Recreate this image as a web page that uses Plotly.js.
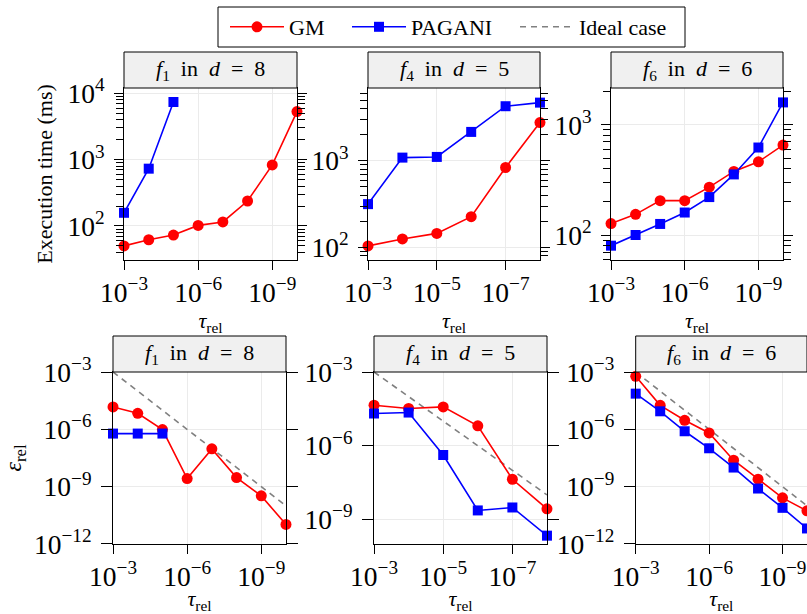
<!DOCTYPE html>
<html>
<head>
<meta charset="utf-8">
<script src="https://cdn.plot.ly/plotly-3.0.1.min.js"></script>
<style>html,body{margin:0;padding:0;background:#fff;}#chart{width:807px;height:614px;}</style>
</head>
<body>
<div id="chart"></div>
<script>
// ---- data ----
const tauF1 = [1e-3, 1e-4, 1e-5, 1e-6, 1e-7, 1e-8, 1e-9, 1e-10];
const tauF4 = [1e-3, 1e-4, 1e-5, 1e-6, 1e-7, 1e-8];
const tauF6 = [1e-3, 1e-4, 1e-5, 1e-6, 1e-7, 1e-8, 1e-9, 1e-10];
const tauPaganiF1 = [1e-3, 1e-4, 1e-5];

const timeGM_f1 = [50, 62, 73, 102, 115, 238, 832, 5300];
const timePAGANI_f1 = [158, 731, 7400];
const timeGM_f4 = [104, 125, 145, 226, 838, 2770];
const timePAGANI_f4 = [316, 1090, 1110, 2160, 4280, 4710];
const timeGM_f6 = [127, 154, 205, 205, 272, 378, 462, 655];
const timePAGANI_f6 = [80, 100, 126, 160, 221, 355, 623, 1600];

const errGM_f1 = [1.48e-5, 6.9e-6, 9.7e-7, 2.66e-9, 9.5e-8, 3.0e-9, 3.3e-10, 1.05e-11];
const errPAGANI_f1 = [6.0e-7, 6.0e-7, 6.0e-7];
const errGM_f4 = [4.46e-5, 3.27e-5, 3.81e-5, 6.47e-6, 4.32e-8, 2.70e-9];
const errPAGANI_f4 = [2.05e-5, 2.24e-5, 4.19e-7, 2.32e-9, 3.06e-9, 2.18e-10];
const errGM_f6 = [5.94e-4, 1.81e-5, 2.98e-6, 6.49e-7, 2.42e-8, 2.45e-9, 2.60e-10, 5.43e-11];
const errPAGANI_f6 = [7.38e-5, 8.79e-6, 7.93e-7, 1.02e-7, 1.0e-8, 7.98e-10, 7.80e-11, 6.49e-12];

const idealTauF1 = [1e-3, 1e-10];
const idealErrF1 = [1e-3, 1e-10];
const idealTauF4 = [1e-3, 1e-8];
const idealErrF4 = [1e-3, 1e-8];
const idealTauF6 = [1e-3, 1e-10];
const idealErrF6 = [1e-3, 1e-10];

const panelTitles = [
  '<i>f</i><sub>1</sub>  in  <i>d</i>  =  8',
  '<i>f</i><sub>4</sub>  in  <i>d</i>  =  5',
  '<i>f</i><sub>6</sub>  in  <i>d</i>  =  6'
];
const seriesNames = ['GM', 'PAGANI', 'Ideal case'];

// ---- styles ----
const FONT = 'Liberation Serif';
const RED = '#ff0000', BLUE = '#0000ff', GRAY = '#808080';

function gm(x, y, k, show) {
  return {x: x, y: y, xaxis: 'x' + k, yaxis: 'y' + k, name: seriesNames[0], mode: 'lines+markers',
    line: {color: RED, width: 1.6}, marker: {symbol: 'circle', size: 11, color: RED},
    showlegend: show, legend: 'legend', cliponaxis: false};
}
function pg(x, y, k, show) {
  return {x: x, y: y, xaxis: 'x' + k, yaxis: 'y' + k, name: seriesNames[1], mode: 'lines+markers',
    line: {color: BLUE, width: 1.6}, marker: {symbol: 'square', size: 10, color: BLUE},
    showlegend: show, legend: 'legend2', cliponaxis: false};
}
function ideal(x, y, k, show) {
  return {x: x, y: y, xaxis: 'x' + k, yaxis: 'y' + k, name: seriesNames[2], mode: 'lines',
    line: {color: GRAY, width: 1.6, dash: '6px,5px'}, showlegend: show, legend: 'legend3'};
}

const traces = [
  gm(tauF1, timeGM_f1, 1, true), pg(tauPaganiF1, timePAGANI_f1, 1, true),
  gm(tauF4, timeGM_f4, 2, false), pg(tauF4, timePAGANI_f4, 2, false),
  gm(tauF6, timeGM_f6, 3, false), pg(tauF6, timePAGANI_f6, 3, false),
  ideal(idealTauF1, idealErrF1, 4, true), gm(tauF1, errGM_f1, 4, false), pg(tauPaganiF1, errPAGANI_f1, 4, false),
  ideal(idealTauF4, idealErrF4, 5, false), gm(tauF4, errGM_f4, 5, false), pg(tauF4, errPAGANI_f4, 5, false),
  ideal(idealTauF6, idealErrF6, 6, false), gm(tauF6, errGM_f6, 6, false), pg(tauF6, errPAGANI_f6, 6, false)
];

const W = 807, H = 614;
const xDomains = [
  [124 / W, 297 / W], [368 / W, 540 / W], [611 / W, 783 / W],
  [113 / W, 286 / W], [374 / W, 547 / W], [635.7 / W, 1.0]
];
const topY = [1 - 260 / H, 1 - 88 / H];
const botY = [1 - 544 / H, 1 - 372 / H];
const xRanges = [[-2.999, -10.001], [-2.999, -8.001], [-2.999, -10.001], [-2.999, -10.001], [-2.999, -8.001], [-2.999, -10.001]];
const xDticks = [3, 2, 3, 3, 2, 3];
const yRanges = [[1.487, 4.08], [1.854, 3.842], [1.773, 3.335], [-12.001, -2.999], [-10.001, -2.999], [-12.001, -2.999]];

const tickFont = {family: FONT, size: 22, color: '#000'};
function legendAt(px) {
  return {
    orientation: 'h', x: px / W, xanchor: 'left', y: 1 - 27 / H, yanchor: 'middle',
    borderwidth: 0, bgcolor: 'rgba(0,0,0,0)',
    font: {family: FONT, size: 22, color: '#000'}, itemwidth: 54
  };
}
const layout = {
  width: W, height: H,
  margin: {l: 0, r: 0, t: 0, b: 0},
  paper_bgcolor: '#fff', plot_bgcolor: '#fff',
  font: {family: FONT, size: 22, color: '#000'},
  showlegend: true,
  legend: legendAt(225),
  legend2: legendAt(347),
  legend3: legendAt(515),
  shapes: [{
    type: 'rect', xref: 'paper', yref: 'paper', layer: 'below',
    x0: 218 / W, x1: 685 / W, y0: 1 - 47 / H, y1: 1 - 7 / H,
    fillcolor: '#fff', line: {color: '#000', width: 1}
  }],
  annotations: []
};

const tauTitle = '<i>τ</i><sub>rel</sub>';
for (let i = 0; i < 6; i++) {
  const k = i + 1;
  const top = i < 3;
  layout['xaxis' + k] = {
    domain: xDomains[i], anchor: 'y' + k, type: 'log', range: xRanges[i], dtick: xDticks[i], tick0: -3,
    exponentformat: 'power', showline: true, linecolor: '#000', linewidth: 1, mirror: true,
    ticks: 'outside', ticklen: 9, tickcolor: '#000', showgrid: true, gridcolor: '#ebebeb',
    zeroline: false, tickfont: tickFont,
    title: {text: tauTitle, font: {family: FONT, size: 22, color: '#000'}, standoff: 4}
  };
  const ya = {
    domain: top ? topY : botY, anchor: 'x' + k, type: 'log', range: yRanges[i],
    dtick: top ? 1 : 3, tick0: top ? 0 : -3, exponentformat: 'power', showline: true, linecolor: '#000', linewidth: 1,
    mirror: 'ticks', ticks: 'outside', ticklen: top ? 9 : 11, tickcolor: '#000', ticklabelstandoff: 5,
    showgrid: true, gridcolor: '#ebebeb', zeroline: false, tickfont: tickFont
  };
  if (top) ya.minor = {ticks: 'outside', ticklen: 7, tickcolor: '#000', showgrid: false};
  if (i === 0) ya.title = {text: 'Execution time (ms)', font: {family: FONT, size: 22, color: '#000'}, standoff: 8};
  if (i === 3) ya.title = {text: '<i>ε</i><sub>rel</sub>', font: {family: FONT, size: 24, color: '#000'}, standoff: 13};
  layout['yaxis' + k] = ya;

  layout.shapes.push({
    type: 'rect', xref: 'x' + k + ' domain', yref: 'y' + k + ' domain',
    x0: 0, x1: 1, y0: 1, y1: 1 + 36 / 172, fillcolor: '#f0f0f0', line: {color: '#000', width: 1}
  });
  layout.annotations.push({
    xref: 'x' + k + ' domain', yref: 'y' + k + ' domain', x: 0.5, y: 1 + 18 / 172,
    xanchor: 'center', yanchor: 'middle', showarrow: false, text: panelTitles[i % 3],
    font: {family: FONT, size: 22, color: '#000'}
  });
}

Plotly.newPlot('chart', traces, layout, {displayModeBar: false, staticPlot: true});
</script>
</body>
</html>
